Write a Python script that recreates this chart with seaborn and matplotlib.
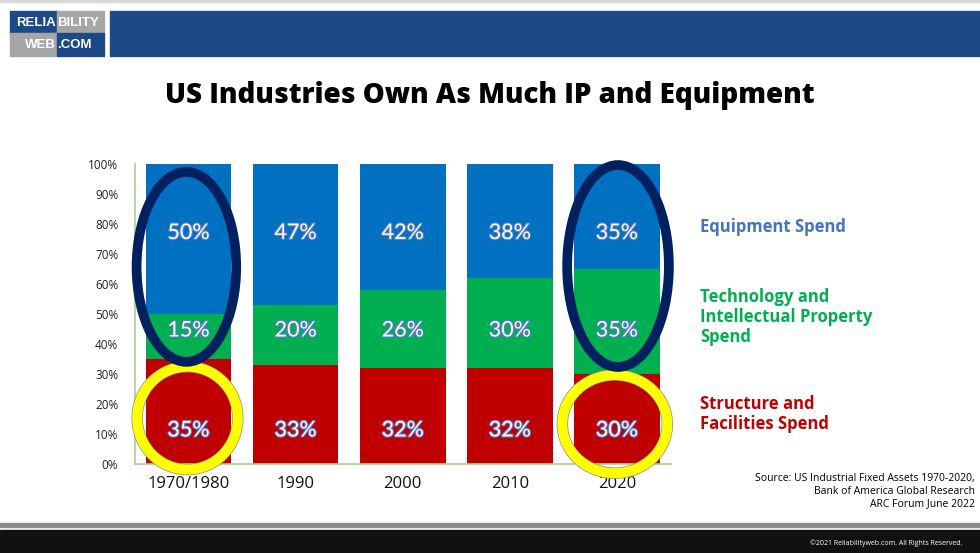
import matplotlib
matplotlib.use("Agg")
import matplotlib.pyplot as plt
import matplotlib.patheffects as pe
from matplotlib.patches import Ellipse, Rectangle
import seaborn as sns
import pandas as pd

# Data for visualization
years = ["1970/1980", "1990", "2000", "2010", "2020"]
structure = [35, 33, 32, 32, 30]
technology = [15, 20, 26, 30, 35]
equipment = [50, 47, 42, 38, 35]

df = pd.DataFrame({"year": years, "structure": structure,
                   "technology": technology, "equipment": equipment})
df["tech_top"] = df["structure"] + df["technology"]
df["equip_top"] = df["tech_top"] + df["equipment"]

sns.set_style("white")
plt.rcParams["font.family"] = ["Open Sans", "DejaVu Sans"]

BLUE, GREEN, RED = "#0070c0", "#00b050", "#c00000"

fig = plt.figure(figsize=(9.8, 5.53), dpi=100)
ax = fig.add_axes([135 / 980, 89 / 553, 535.5 / 980, 300 / 553])

# stacked bars: draw the cumulative tops, largest first
for col, colour in [("equip_top", BLUE), ("tech_top", GREEN), ("structure", RED)]:
    sns.barplot(x="year", y=col, data=df, color=colour, width=0.8,
                saturation=1, linewidth=0, ax=ax, zorder=2)

ax.set_ylim(0, 100)
ax.set_xlim(-0.5, 4.5)
ax.set_yticks(range(0, 101, 10))
ax.set_yticklabels([f"{v}%" for v in range(0, 101, 10)], fontsize=8.5, color="#222222")
ax.set_xticklabels(years, fontsize=12, color="#111111")
ax.tick_params(axis="y", length=0, pad=12)
ax.tick_params(axis="x", length=0, pad=9)
ax.set_xlabel("")
ax.set_ylabel("")
for s in ["top", "right"]:
    ax.spines[s].set_visible(False)
for s in ["left", "bottom"]:
    ax.spines[s].set_color("#a9d18e")
    ax.spines[s].set_linewidth(1.2)

# value labels
outline = [pe.withStroke(linewidth=1.6, foreground="#5b7bd0")]
for i in range(len(years)):
    for val, ypos in [(equipment[i], 77), (technology[i], 44.5), (structure[i], 11.2)]:
        ax.text(i, ypos, f"{val}%", ha="center", va="center", color="white",
                fontsize=15.5, family=["Lato", "DejaVu Sans"], path_effects=outline,
                zorder=5)

# highlight rings
for cx, cy, w, h in [(-0.01, 15.3, 0.94, 34.3), (3.98, 13.3, 0.98, 32.7)]:
    ax.add_patch(Ellipse((cx, cy), w, h, fill=False, edgecolor="#8c8c8c",
                         lw=8.2, clip_on=False, zorder=6))
    ax.add_patch(Ellipse((cx, cy), w, h, fill=False, edgecolor="#ffff00",
                         lw=7.2, clip_on=False, zorder=6))
for cx, cy, w, h in [(-0.02, 65.7, 0.93, 63.3), (4.01, 66.0, 0.95, 67.3)]:
    ax.add_patch(Ellipse((cx, cy), w, h, fill=False, edgecolor="#002060",
                         lw=7.0, clip_on=False, zorder=7))

# title
fig.text(490 / 980, 1 - 96 / 553, "US Industries Own As Much IP and Equipment",
         ha="center", va="center", fontsize=20, fontweight=800, color="black")

# side legend texts
fig.text(700 / 980, 1 - 227 / 553, "Equipment Spend", ha="left", va="center",
         fontsize=12, fontweight="bold", color="#4472c4")
fig.text(700 / 980, 1 - 317 / 553, "Technology and\nIntellectual Property\nSpend",
         ha="left", va="center", fontsize=12, fontweight="bold", color=GREEN,
         linespacing=1.15)
fig.text(700 / 980, 1 - 414 / 553, "Structure and\nFacilities Spend", ha="left",
         va="center", fontsize=12, fontweight="bold", color=RED, linespacing=1.15)

# source note
fig.text(975 / 980, 1 - 491 / 553,
         "Source: US Industrial Fixed Assets 1970-2020,\nBank of America Global Research\nARC Forum June 2022",
         ha="right", va="center", fontsize=7.5, color="black", linespacing=1.2)

# header: thin top line, logo, blue band
fig.patches.append(Rectangle((0, 1 - 2 / 553), 1, 2 / 553, color="#d9d9d9",
                             transform=fig.transFigure, figure=fig))
fig.patches.append(Rectangle((110 / 980, 1 - 56 / 553), 870 / 980, 45 / 553,
                             color="#1b4a86", transform=fig.transFigure, figure=fig))
logo_cells = [(10, 11, "#1b4a86", "RELIA", "right"), (57, 11, "#a6a6a6", "BILITY", "left"),
              (10, 33.5, "#a6a6a6", "WEB", "right"), (57, 33.5, "#1b4a86", ".COM", "left")]
for lx, ly, col, txt, align in logo_cells:
    fig.patches.append(Rectangle((lx / 980, 1 - (ly + 22.5) / 553), 47 / 980, 22.5 / 553,
                                 color=col, transform=fig.transFigure, figure=fig))
    tx = (lx + 46) / 980 if align == "right" else (lx + 0.5) / 980
    fig.text(tx, 1 - (ly + 11.5) / 553, txt, ha=align, va="center", fontsize=9.5,
             fontweight="bold", color="white", family=["Liberation Sans", "DejaVu Sans"])

# footer
fig.patches.append(Rectangle((0, 1 - 527 / 553), 1, 4 / 553, color="#8c8c8c",
                             transform=fig.transFigure, figure=fig))
fig.patches.append(Rectangle((0, 0), 1, 23 / 553, color="#111111",
                             transform=fig.transFigure, figure=fig))
fig.text(962 / 980, 1 - 543 / 553, "©2021 Reliabilityweb.com. All Rights Reserved.",
         ha="right", va="center", fontsize=5, color="white")

fig.savefig("out.png", dpi=100)
